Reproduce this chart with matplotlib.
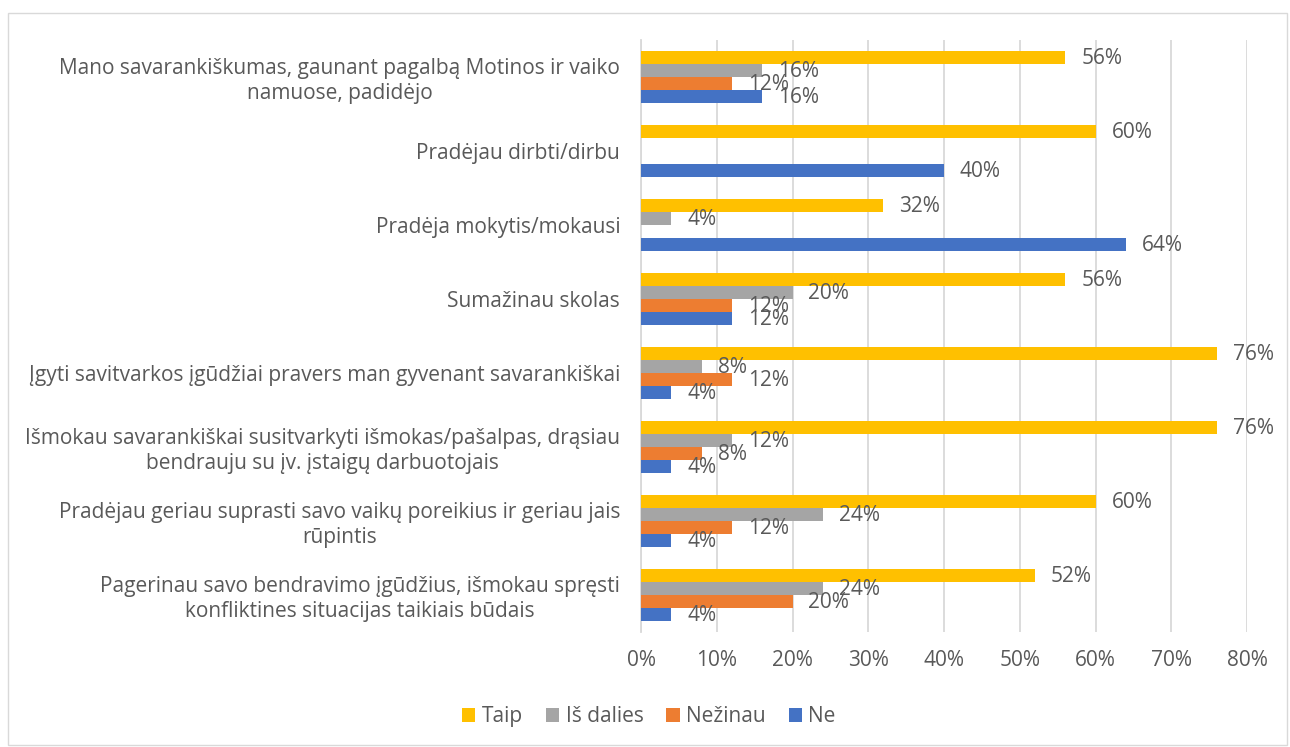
import numpy as np
import matplotlib
matplotlib.use("Agg")
import matplotlib.pyplot as plt
from matplotlib.patches import Rectangle

plt.rcParams['font.family'] = ['Open Sans', 'DejaVu Sans']

categories = [
    "Mano savarankiškumas, gaunant pagalbą Motinos ir vaiko\nnamuose, padidėjo",
    "Pradėjau dirbti/dirbu",
    "Pradėja mokytis/mokausi",
    "Sumažinau skolas",
    "Įgyti savitvarkos įgūdžiai pravers man gyvenant savarankiškai",
    "Išmokau savarankiškai susitvarkyti išmokas/pašalpas, drąsiau\nbendrauju su įv. įstaigų darbuotojais",
    "Pradėjau geriau suprasti savo vaikų poreikius ir geriau jais\nrūpintis",
    "Pagerinau savo bendravimo įgūdžius, išmokau spręsti\nkonfliktines situacijas taikiais būdais",
]
taip = [56, 60, 32, 56, 76, 76, 60, 52]
is_dalies = [16, 0, 4, 20, 8, 12, 24, 24]
nezinau = [12, 0, 0, 12, 12, 8, 12, 20]
ne = [16, 40, 64, 12, 4, 4, 4, 4]

series = [("Taip", taip, "#FFC000"),
          ("Iš dalies", is_dalies, "#A5A5A5"),
          ("Nežinau", nezinau, "#ED7D31"),
          ("Ne", ne, "#4472C4")]

text_col = "#595959"
fs = 15

fig = plt.figure(figsize=(12.9, 7.47), dpi=100)
ax = fig.add_axes([0.4969, 0.154, 0.4698, 0.7925])

y = np.arange(len(categories))
h = 0.176
for i, (name, vals, col) in enumerate(series):
    off = (i - 1.5) * h
    ax.barh(y + off, vals, height=h, color=col, label=name, zorder=3)
    for yy, v in zip(y, vals):
        if v > 0:
            ax.text(v + 2.1, yy + off + 0.02, f"{v}%", va="center", ha="left",
                    fontsize=fs, color=text_col, zorder=4)

ax.set_xlim(0, 80)
ax.set_ylim(len(categories) - 0.5, -0.5)
ax.set_xticks(range(0, 81, 10))
ax.set_xticklabels([f"{t}%" for t in range(0, 81, 10)])
ax.set_yticks(y)
ax.set_yticklabels(categories, multialignment="center")
ax.tick_params(axis="both", length=0, labelsize=fs, colors=text_col)
ax.tick_params(axis="y", pad=15)
ax.tick_params(axis="x", pad=13)
ax.grid(axis="x", color="#D9D9D9", linewidth=1.3, zorder=0)
for s in ["top", "right", "bottom"]:
    ax.spines[s].set_visible(False)
ax.spines["left"].set_color("#D9D9D9")
ax.spines["left"].set_linewidth(1.3)

fig.legend(loc="center", bbox_to_anchor=(0.503, 0.041), ncol=4, frameon=False,
           fontsize=fs, handlelength=0.65, handleheight=0.65, handletextpad=0.3,
           columnspacing=1.1, labelcolor=text_col)

fig.patches.append(Rectangle((0.006, 0.003), 0.992, 0.98, transform=fig.transFigure,
                             fill=False, edgecolor="#D9D9D9", linewidth=1))

fig.savefig("out.png", dpi=100)
